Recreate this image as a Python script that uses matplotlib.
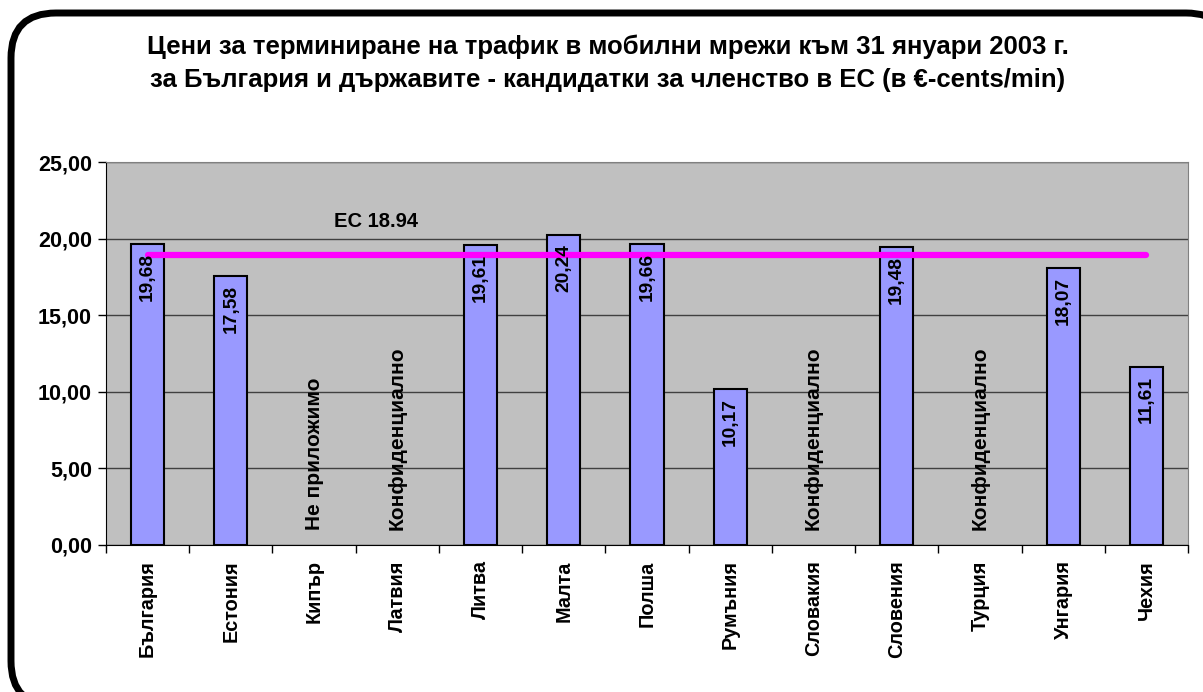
import numpy as np
import matplotlib.pyplot as plt
from matplotlib.patches import FancyBboxPatch

plt.rcParams["font.family"] = ["Liberation Sans", "DejaVu Sans"]

countries = ["България", "Естония", "Кипър", "Латвия", "Литва", "Малта", "Полша",
             "Румъния", "Словакия", "Словения", "Турция", "Унгария", "Чехия"]
prices = [19.68, 17.58, np.nan, np.nan, 19.61, 20.24, 19.66,
          10.17, np.nan, 19.48, np.nan, 18.07, 11.61]
notes = {2: "Не приложимо", 3: "Конфиденциално", 8: "Конфиденциално", 10: "Конфиденциално"}
eu_avg = 18.94
title_lines = ["Цени за терминиране на трафик в мобилни мрежи към 31 януари 2003 г.",
               "за България и държавите - кандидатки за членство в ЕС (в €-cents/min)"]

W, H = 1203, 692
fig = plt.figure(figsize=(W / 100, H / 100), dpi=100)

# rounded frame (runs off the right and bottom edges like the original)
frame = FancyBboxPatch((0.11, -0.14), 12.2, 6.93, boxstyle="round,pad=0,rounding_size=0.45",
                       transform=fig.dpi_scale_trans, fc="white", ec="black", lw=5, zorder=1)
fig.patches.append(frame)

fig.text(608 / W, 1 - 47 / H, title_lines[0], ha="center", va="center",
         fontsize=18.5, fontweight="bold")
fig.text(608 / W, 1 - 80 / H, title_lines[1], ha="center", va="center",
         fontsize=18.5, fontweight="bold")

ax = fig.add_axes([106 / W, 1 - 545 / H, (1188 - 106) / W, (545 - 162) / H])
ax.set_zorder(2)
ax.set_facecolor("#C0C0C0")

x = np.arange(len(countries))
p = np.array(prices)
ok = ~np.isnan(p)
ax.bar(x[ok], p[ok], width=0.4, color="#9999FF", edgecolor="black", linewidth=1.5, zorder=3)

ax.plot([x[0], x[-1]], [eu_avg, eu_avg], color="#FF00FF", lw=4.5, zorder=4,
        solid_capstyle="round")
ax.text(2.75, 21.1, f"ЕС {eu_avg}", ha="center", va="center", fontsize=14.5, fontweight="bold")

for i, v in enumerate(prices):
    if np.isnan(v):
        ax.text(i, 0.95, notes[i], rotation=90, ha="center", va="bottom",
                fontsize=15, fontweight="bold", zorder=5)
    else:
        ax.text(i, v - 0.6, f"{v:.2f}".replace(".", ","), rotation=90, ha="center", va="top",
                fontsize=13.8, fontweight="bold", zorder=5)

ax.set_xlim(-0.5, len(countries) - 0.5)
ax.set_ylim(0, 25)
yt = np.arange(0, 26, 5)
ax.set_yticks(yt)
ax.set_yticklabels([f"{t:.2f}".replace(".", ",") for t in yt], fontsize=15.5, fontweight="bold")
ax.yaxis.grid(True, color="#404040", lw=1)
ax.set_axisbelow(True)

ax.set_xticks(x)
ax.set_xticklabels(countries, rotation=90, fontsize=14.3, fontweight="bold")
ax.set_xticks(np.arange(-0.5, len(countries)), minor=True)
ax.tick_params(axis="x", which="major", length=0, pad=11)
ax.tick_params(axis="x", which="minor", length=6, width=1, color="black")
ax.tick_params(axis="y", length=6, width=1, pad=4)

for s in ["top", "right"]:
    ax.spines[s].set_color("#808080")
ax.spines["left"].set_color("black")
ax.spines["bottom"].set_color("black")

fig.savefig("out.png", dpi=100)
